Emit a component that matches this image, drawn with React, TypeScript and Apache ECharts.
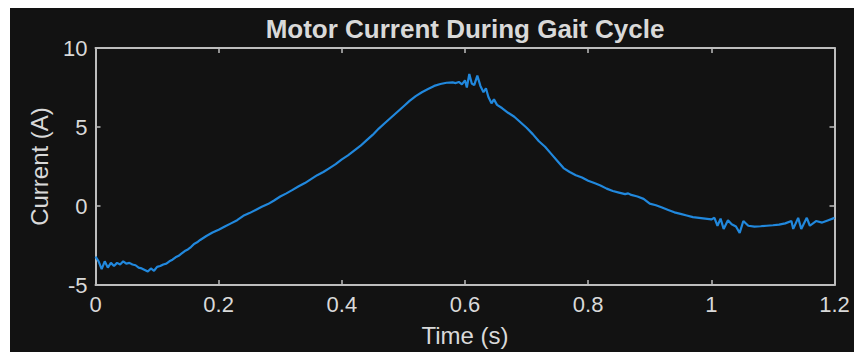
import React, { useEffect, useRef } from "react";
import * as echarts from "echarts";

const timeS: number[] = [
  0.0, 0.005, 0.01, 0.015, 0.02, 0.025, 0.03, 0.035, 0.04, 0.045, 0.05, 0.055, 0.06, 0.065, 0.07, 0.075,
  0.08, 0.085, 0.09, 0.095, 0.1, 0.105, 0.11, 0.115, 0.12, 0.125, 0.13, 0.135, 0.14, 0.145, 0.15, 0.155,
  0.16, 0.165, 0.17, 0.18, 0.19, 0.2, 0.21, 0.22, 0.23, 0.24, 0.25, 0.26, 0.27, 0.28, 0.29, 0.3, 0.31,
  0.32, 0.33, 0.34, 0.35, 0.36, 0.37, 0.38, 0.39, 0.4, 0.41, 0.42, 0.43, 0.44, 0.45, 0.46, 0.47, 0.48,
  0.49, 0.5, 0.51, 0.52, 0.53, 0.54, 0.55, 0.56, 0.57, 0.58, 0.585, 0.59, 0.595, 0.6, 0.603, 0.607, 0.611,
  0.615, 0.62, 0.625, 0.63, 0.634, 0.638, 0.643, 0.647, 0.652, 0.66, 0.67, 0.68, 0.69, 0.7, 0.71, 0.72,
  0.73, 0.74, 0.75, 0.76, 0.77, 0.78, 0.79, 0.8, 0.81, 0.82, 0.83, 0.84, 0.85, 0.86, 0.865, 0.87, 0.88,
  0.89, 0.9, 0.91, 0.92, 0.93, 0.94, 0.95, 0.96, 0.97, 0.98, 0.99, 1.0, 1.005, 1.01, 1.015, 1.02, 1.027,
  1.033, 1.04, 1.046, 1.052, 1.06, 1.07, 1.08, 1.09, 1.1, 1.11, 1.12, 1.13, 1.133, 1.141, 1.146, 1.155,
  1.16, 1.17, 1.18, 1.19, 1.2,
];

const currentA: number[] = [
  -3.2, -3.5, -4.0, -3.5, -3.9, -3.6, -3.8, -3.6, -3.7, -3.5, -3.65, -3.6, -3.7, -3.75, -3.9, -3.95,
  -4.05, -4.15, -3.95, -4.1, -3.85, -3.8, -3.7, -3.65, -3.5, -3.4, -3.25, -3.15, -3.0, -2.85, -2.75, -2.6,
  -2.4, -2.3, -2.15, -1.9, -1.68, -1.5, -1.3, -1.1, -0.9, -0.62, -0.45, -0.25, -0.05, 0.12, 0.35, 0.6, 0.8,
  1.02, 1.25, 1.45, 1.7, 1.95, 2.15, 2.4, 2.65, 2.95, 3.2, 3.5, 3.8, 4.15, 4.5, 4.9, 5.25, 5.6,
  5.95, 6.3, 6.65, 6.95, 7.2, 7.4, 7.6, 7.72, 7.8, 7.82, 7.78, 7.85, 7.7, 7.95, 7.5, 8.35, 7.75,
  7.65, 8.25, 7.6, 7.2, 7.45, 6.9, 6.5, 6.75, 6.4, 6.2, 5.9, 5.65, 5.3, 4.95, 4.55, 4.1,
  3.75, 3.3, 2.85, 2.4, 2.15, 1.95, 1.8, 1.6, 1.45, 1.3, 1.1, 0.95, 0.85, 0.75, 0.8, 0.7, 0.6,
  0.45, 0.15, 0.05, -0.1, -0.25, -0.4, -0.5, -0.6, -0.7, -0.75, -0.8, -0.85, -0.75, -1.25, -0.8, -1.45, -0.9,
  -1.15, -1.3, -1.7, -0.95, -1.25, -1.3, -1.28, -1.25, -1.22, -1.18, -1.1, -0.95, -1.45, -0.75, -1.45, -0.75,
  -1.25, -0.95, -1.05, -0.9, -0.75,
];

const titleText = "Motor Current During Gait Cycle";
const xName = "Time (s)";
const yName = "Current (A)";

const BG = "#121212";
const AX = "#bdbdbd";
const TXT = "#d9d9d9";
const FONT = "Liberation Sans, Arial, sans-serif";

export default function App() {
  const ref = useRef<HTMLDivElement>(null);
  useEffect(() => {
    if (!ref.current) return;
    const chart = echarts.init(ref.current, null, { renderer: "svg" });
    const data = timeS.map((t, i) => [t, currentA[i]]);
    const axisLine = { show: true, onZero: false, lineStyle: { color: AX, width: 2 } };
    const axisTick = { show: true, inside: true, length: 5, lineStyle: { color: AX, width: 1.5 } };
    chart.setOption({
      animation: false,
      backgroundColor: BG,
      grid: { left: 85.5, right: 19.5, top: 40, bottom: 66, containLabel: false },
      graphic: [
        {
          type: "text",
          x: 455,
          y: 21,
          style: {
            text: titleText,
            fill: TXT,
            font: `bold 26px ${FONT}`,
            textAlign: "center",
            textVerticalAlign: "middle",
          },
        },
      ],
      xAxis: [
        {
          type: "value",
          min: 0,
          max: 1.2,
          interval: 0.2,
          position: "bottom",
          name: xName,
          nameLocation: "middle",
          nameGap: 38,
          nameTextStyle: { color: TXT, fontSize: 24, fontFamily: FONT },
          axisLine,
          axisTick,
          axisLabel: { color: TXT, fontSize: 22, fontFamily: FONT, margin: 8 },
          splitLine: { show: false },
        },
        {
          type: "value",
          min: 0,
          max: 1.2,
          interval: 0.2,
          position: "top",
          axisLine,
          axisTick,
          axisLabel: { show: false },
          splitLine: { show: false },
        },
      ],
      yAxis: [
        {
          type: "value",
          min: -5,
          max: 10,
          interval: 5,
          position: "left",
          name: yName,
          nameLocation: "middle",
          nameGap: 44,
          nameTextStyle: { color: TXT, fontSize: 24, fontFamily: FONT },
          axisLine,
          axisTick,
          axisLabel: { color: TXT, fontSize: 22, fontFamily: FONT, margin: 8 },
          splitLine: { show: false },
        },
        {
          type: "value",
          min: -5,
          max: 10,
          interval: 5,
          position: "right",
          axisLine,
          axisTick,
          axisLabel: { show: false },
          splitLine: { show: false },
        },
      ],
      series: [
        {
          type: "line",
          data,
          showSymbol: false,
          symbol: "none",
          lineStyle: { color: "#2188dd", width: 2.2 },
          xAxisIndex: 0,
          yAxisIndex: 0,
        },
      ],
    });
    return () => chart.dispose();
  }, []);
  return (
    <div style={{ position: "fixed", left: 0, top: 0, width: 854, height: 352, background: "#ffffff" }}>
      <div ref={ref} style={{ position: "absolute", left: 10, top: 8, width: 844, height: 344 }} />
    </div>
  );
}
